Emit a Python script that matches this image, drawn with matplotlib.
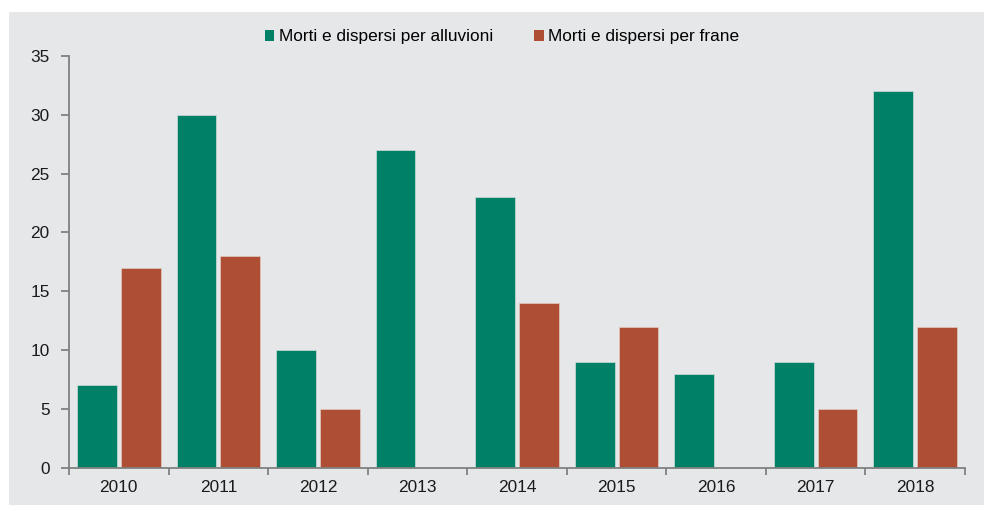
import numpy as np
import matplotlib
matplotlib.use("Agg")
import matplotlib.pyplot as plt
from matplotlib.patches import Rectangle, Patch

anni = ["2010", "2011", "2012", "2013", "2014", "2015", "2016", "2017", "2018"]
alluvioni = [7, 30, 10, 27, 23, 9, 8, 9, 32]
frane = [17, 18, 5, 0, 14, 12, 0, 5, 12]

verde = "#008066"
rosso = "#ae4f35"
grigio = "#e6e7e9"

plt.rcParams['font.family'] = ['Liberation Sans', 'DejaVu Sans']
plt.rcParams['font.size'] = 12.4

fig = plt.figure(figsize=(9.84, 5.05), dpi=100)
fig.patch.set_facecolor("white")
# gray panel behind the chart
fig.patches.append(Rectangle((9 / 984, 0), 1 - 9 / 984, 1 - 12 / 505,
                             transform=fig.transFigure, facecolor=grigio,
                             edgecolor="none", zorder=-10))

ax = fig.add_axes([69 / 984, 1 - 467.7 / 505, (965 - 69) / 984, (467.7 - 56) / 505])
ax.set_facecolor("none")

x = np.arange(len(anni))
w = 0.4
ax.bar(x - 0.22, alluvioni, w, color=verde, edgecolor="#d0dcd8", linewidth=0.5, zorder=2)
ax.bar(x + 0.22, frane, w, color=rosso, edgecolor="#e0c8c0", linewidth=0.5, zorder=2)

ax.set_xlim(-0.5, len(anni) - 0.5)
ax.set_ylim(0, 35)
ax.set_yticks(np.arange(0, 36, 5))
ax.set_xticks(x)
ax.set_xticklabels(anni)
ax.set_xticks(np.arange(-0.5, len(anni), 1), minor=True)

for s in ["top", "right"]:
    ax.spines[s].set_visible(False)
for s in ["left", "bottom"]:
    ax.spines[s].set_color("#808080")
    ax.spines[s].set_linewidth(1.3)

ax.tick_params(axis="y", length=6, width=1.3, color="#808080", labelcolor="#1a1a1a", pad=8)
ax.tick_params(axis="x", which="major", length=0, labelcolor="#1a1a1a", pad=9)
ax.tick_params(axis="x", which="minor", length=5, width=1.3, color="#808080")

handles = [Patch(facecolor=verde, label="Morti e dispersi per alluvioni"),
           Patch(facecolor=rosso, label="Morti e dispersi per frane")]
fig.legend(handles=handles, loc="center", bbox_to_anchor=(502 / 984, 1 - 37 / 505),
           ncol=2, frameon=False, handlelength=0.55, handleheight=0.55,
           handletextpad=0.25, columnspacing=2.4, fontsize=12.4)

plt.savefig("out.png", dpi=100)
